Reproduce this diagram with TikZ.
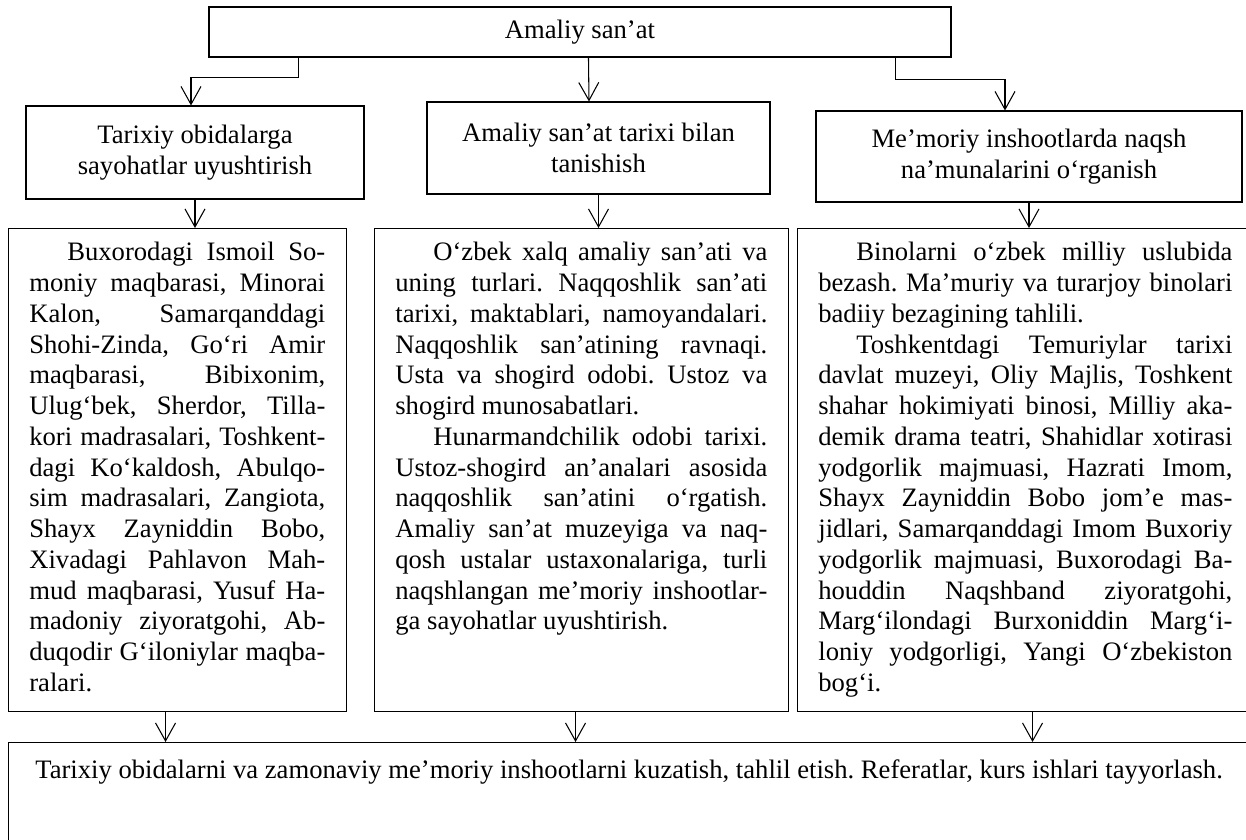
\documentclass[tikz,border=0pt]{standalone}
\usepackage{fontspec}
\setmainfont{Liberation Serif}
\usetikzlibrary{arrows.meta}

\newcommand{\pxl}{0.2mm}
\newlength{\pind}
\setlength{\pind}{7.6mm}

\tikzset{
  quti/.style={draw, line width=0.6pt, inner sep=0pt},
  matn/.style={font=\fontsize{15.15pt}{17.5pt}\selectfont\frenchspacing, inner sep=0pt},
  bayon/.style={matn, align=justify, anchor=north west,
    execute at begin node={\setlength{\parindent}{0pt}}},
  strelka/.style={line width=0.6pt, -{Straight Barb[length=3.6mm,width=4mm]}}
}

\begin{document}
\begin{tikzpicture}[x=\pxl, y=-\pxl]
  \useasboundingbox (0,0) rectangle (1246,839);
  \clip (0,0) rectangle (1246,839);

  % Yuqori blok
  \node[quti, matn, minimum width=742*\pxl, minimum height=50*\pxl] (amaliy) at (580,32) {Amaliy san’at};

  % Ikkinchi qator
  \node[quti, matn, align=center, minimum width=338*\pxl, minimum height=93*\pxl] (sayohat) at (195,152.5)
    {Tarixiy obidalarga\\sayohatlar uyushtirish};
  \node[quti, matn, align=center, minimum width=343*\pxl, minimum height=92*\pxl] (tarix) at (598.5,148)
    {Amaliy san’at tarixi bilan\\tanishish};
  \node[quti, matn, align=center, minimum width=426*\pxl, minimum height=91*\pxl] (naqsh) at (1029,156.5)
    {Me’moriy inshootlarda naqsh\\na’munalarini o‘rganish};

  % Uchinchi qator
  \node[quti, minimum width=338*\pxl, minimum height=483*\pxl, anchor=north west] (obida) at (8,228) {};
  \node[quti, minimum width=414*\pxl, minimum height=483*\pxl, anchor=north west] (maktab) at (374,228) {};
  \node[quti, minimum width=456*\pxl, minimum height=483*\pxl, anchor=north west] (bino) at (797,228) {};

  \node[bayon, text width=296*\pxl] (obidaT) at ([shift={(21,14)}]obida.north west)
    {\hspace*{\pind}Buxorodagi Ismoil So-\linebreak
    moniy maqbarasi, Minorai\linebreak
    Kalon, Samarqanddagi\linebreak
    Shohi-Zinda, Go‘ri Amir\linebreak
    maqbarasi, Bibixonim,\linebreak
    Ulug‘bek, Sherdor, Tilla-\linebreak
    kori madrasalari, Toshkent-\linebreak
    dagi Ko‘kaldosh, Abulqo-\linebreak
    sim madrasalari, Zangiota,\linebreak
    Shayx Zayniddin Bobo,\linebreak
    Xivadagi Pahlavon Mah-\linebreak
    mud maqbarasi, Yusuf Ha-\linebreak
    madoniy ziyoratgohi, Ab-\linebreak
    duqodir G‘iloniylar maqba-\linebreak
    ralari.};

  \node[bayon, text width=372*\pxl] (maktabT) at ([shift={(21,14)}]maktab.north west)
    {\hspace*{\pind}O‘zbek xalq amaliy san’ati va\linebreak
    uning turlari. Naqqoshlik san’ati\linebreak
    tarixi, maktablari, namoyandalari.\linebreak
    Naqqoshlik san’atining ravnaqi.\linebreak
    Usta va shogird odobi. Ustoz va\linebreak
    shogird munosabatlari.\par
    \hspace*{\pind}Hunarmandchilik odobi tarixi.\linebreak
    Ustoz-shogird an’analari asosida\linebreak
    naqqoshlik san’atini o‘rgatish.\linebreak
    Amaliy san’at muzeyiga va naq-\linebreak
    qosh ustalar ustaxonalariga, turli\linebreak
    naqshlangan me’moriy inshootlar-\linebreak
    ga sayohatlar uyushtirish.};

  \node[bayon, text width=414*\pxl] (binoT) at ([shift={(21,14)}]bino.north west)
    {\hspace*{\pind}Binolarni o‘zbek milliy uslubida\linebreak
    bezash. Ma’muriy va turarjoy binolari\linebreak
    badiiy bezagining tahlili.\par
    \hspace*{\pind}Toshkentdagi Temuriylar tarixi\linebreak
    davlat muzeyi, Oliy Majlis, Toshkent\linebreak
    shahar hokimiyati binosi, Milliy aka-\linebreak
    demik drama teatri, Shahidlar xotirasi\linebreak
    yodgorlik majmuasi, Hazrati Imom,\linebreak
    Shayx Zayniddin Bobo jom’e mas-\linebreak
    jidlari, Samarqanddagi Imom Buxoriy\linebreak
    yodgorlik majmuasi, Buxorodagi Ba-\linebreak
    houddin Naqshband ziyoratgohi,\linebreak
    Marg‘ilondagi Burxoniddin Marg‘i-\linebreak
    loniy yodgorligi, Yangi O‘zbekiston\linebreak
    bog‘i.};

  % Pastki blok
  \node[quti, minimum width=1260*\pxl, minimum height=150*\pxl, anchor=north west] (xulosa) at (8,742) {};
  \node[matn, anchor=west] (xulosaT) at ([shift={(27,30)}]xulosa.north west)
    {Tarixiy obidalarni va zamonaviy me’moriy inshootlarni kuzatish, tahlil etish. Referatlar, kurs ishlari tayyorlash.};

  % Strelkalar
  \draw[strelka] ([xshift=90*\pxl]amaliy.south west) -- ++(0,20) -| ([xshift=-4*\pxl]sayohat.north);
  \draw[strelka] ([xshift=380*\pxl]amaliy.south west) -- ([xshift=-9.5*\pxl]tarix.north);
  \draw[strelka] ([xshift=687*\pxl]amaliy.south west) -- ++(0,22) -| ([xshift=-24*\pxl]naqsh.north);

  \draw[strelka] (sayohat.south) -- (sayohat.south |- obida.north);
  \draw[strelka] (tarix.south) -- (tarix.south |- maktab.north);
  \draw[strelka] (naqsh.south) -- (naqsh.south |- bino.north);

  \path ([xshift=-12*\pxl]obida.south) coordinate (p1)
        ([xshift=-6*\pxl]maktab.south) coordinate (p2)
        ([xshift=7*\pxl]bino.south) coordinate (p3);
  \draw[strelka] (p1) -- (p1 |- xulosa.north);
  \draw[strelka] (p2) -- (p2 |- xulosa.north);
  \draw[strelka] (p3) -- (p3 |- xulosa.north);
\end{tikzpicture}
\end{document}
